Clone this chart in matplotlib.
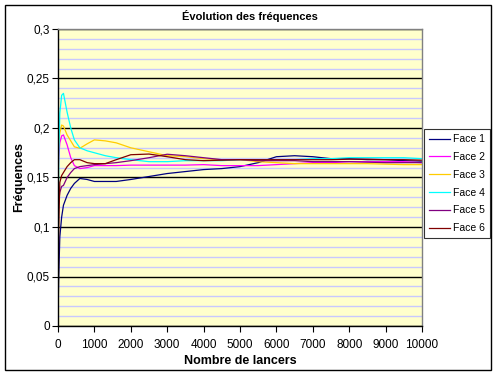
import matplotlib
matplotlib.use("Agg")
import matplotlib.pyplot as plt
from matplotlib.patches import Rectangle
from matplotlib.ticker import MultipleLocator, FuncFormatter

plt.rcParams['font.family'] = ['Liberation Sans', 'DejaVu Sans']

lancers = [1, 20, 50, 100, 150, 250, 350, 450, 600, 800, 1000, 1300, 1600, 2000, 2500,
           3000, 3500, 4000, 4500, 5000, 5500, 6000, 6500, 7000, 7500, 8000, 8500, 9000, 9500, 10000]

face1 = [0.011, 0.05, 0.09, 0.11, 0.122, 0.132, 0.139, 0.144, 0.149, 0.148, 0.146, 0.146, 0.146, 0.148, 0.151,
         0.154, 0.156, 0.158, 0.159, 0.161, 0.165, 0.171, 0.172, 0.171, 0.169, 0.169, 0.168, 0.168, 0.167, 0.1665]
face2 = [0.15, 0.17, 0.185, 0.192, 0.193, 0.183, 0.170, 0.162, 0.159, 0.160, 0.162, 0.162, 0.162, 0.1625, 0.1625,
         0.1625, 0.1625, 0.163, 0.162, 0.162, 0.162, 0.163, 0.164, 0.165, 0.165, 0.166, 0.166, 0.166, 0.166, 0.165]
face3 = [0.17, 0.185, 0.195, 0.203, 0.202, 0.193, 0.187, 0.181, 0.1795, 0.184, 0.188, 0.187, 0.185, 0.180, 0.176,
         0.172, 0.171, 0.169, 0.168, 0.168, 0.166, 0.165, 0.164, 0.164, 0.164, 0.164, 0.164, 0.1635, 0.163, 0.163]
face4 = [0.05, 0.17, 0.215, 0.233, 0.235, 0.216, 0.200, 0.188, 0.180, 0.177, 0.175, 0.172, 0.170, 0.168, 0.166,
         0.166, 0.167, 0.167, 0.167, 0.168, 0.168, 0.168, 0.168, 0.169, 0.169, 0.170, 0.170, 0.170, 0.170, 0.169]
face5 = [0.12, 0.125, 0.135, 0.141, 0.142, 0.150, 0.155, 0.159, 0.161, 0.162, 0.163, 0.164, 0.165, 0.167, 0.170,
         0.1735, 0.172, 0.170, 0.168, 0.168, 0.167, 0.167, 0.167, 0.166, 0.166, 0.166, 0.1655, 0.165, 0.165, 0.165]
face6 = [0.0, 0.10, 0.145, 0.152, 0.155, 0.161, 0.165, 0.168, 0.168, 0.165, 0.164, 0.164, 0.168, 0.173, 0.1737,
         0.171, 0.168, 0.167, 0.1675, 0.168, 0.168, 0.168, 0.168, 0.168, 0.168, 0.1685, 0.1685, 0.168, 0.168, 0.1675]

series_names = ["Face 1", "Face 2", "Face 3", "Face 4", "Face 5", "Face 6"]
series = [face1, face2, face3, face4, face5, face6]
colors = ["#000080", "#FF00FF", "#FFCC00", "#00FFFF", "#800080", "#800000"]

fig = plt.figure(figsize=(4.96, 3.75), dpi=100)
fig.patches.append(Rectangle((5/496, 5/375), 486/496, 365/375, transform=fig.transFigure,
                             fill=False, edgecolor='black', linewidth=1.0))

ax = fig.add_axes([58/496, 49/375, 364/496, 297/375])
ax.set_facecolor('#FFFFCC')

for name, vals, c in zip(series_names, series, colors):
    ax.plot(lancers, vals, color=c, linewidth=0.9, label=name)

ax.set_xlim(0, 10000)
ax.set_ylim(0, 0.3)
ax.xaxis.set_major_locator(MultipleLocator(1000))
ax.yaxis.set_major_locator(MultipleLocator(0.05))
ax.yaxis.set_minor_locator(MultipleLocator(0.01))
ax.yaxis.set_major_formatter(FuncFormatter(lambda v, p: ('%g' % round(v, 2)).replace('.', ',')))
ax.grid(True, which='major', axis='y', color='black', linewidth=1.0)
ax.grid(True, which='minor', axis='y', color='#C8C8FF', linewidth=1.0)
ax.set_axisbelow(True)
ax.tick_params(axis='both', which='major', direction='out', length=4, width=0.8,
               labelsize=8.5, pad=2)
ax.tick_params(axis='y', which='minor', length=0)
ax.tick_params(axis='x', pad=5)

for s in ['top', 'right']:
    ax.spines[s].set_color('#808080')
    ax.spines[s].set_linewidth(1.0)
for s in ['left', 'bottom']:
    ax.spines[s].set_color('black')
    ax.spines[s].set_linewidth(1.0)

fig.text(250/496, 1 - 16/375, "Évolution des fréquences", ha='center', va='center',
         fontsize=8, fontweight='bold')
ax.set_xlabel("Nombre de lancers", fontsize=9, fontweight='bold', labelpad=3)
ax.set_ylabel("Fréquences", fontsize=9, fontweight='bold', labelpad=1)

leg = ax.legend(loc='upper left', bbox_to_anchor=(424/496, 1 - 129/375),
                bbox_transform=fig.transFigure, frameon=True, fancybox=False,
                fontsize=7.5, handlelength=2.0, handletextpad=0.25, labelspacing=0.75,
                borderpad=0.5, borderaxespad=0)
leg.get_frame().set_edgecolor('black')
leg.get_frame().set_linewidth(0.8)

fig.savefig("out.png", dpi=100)
